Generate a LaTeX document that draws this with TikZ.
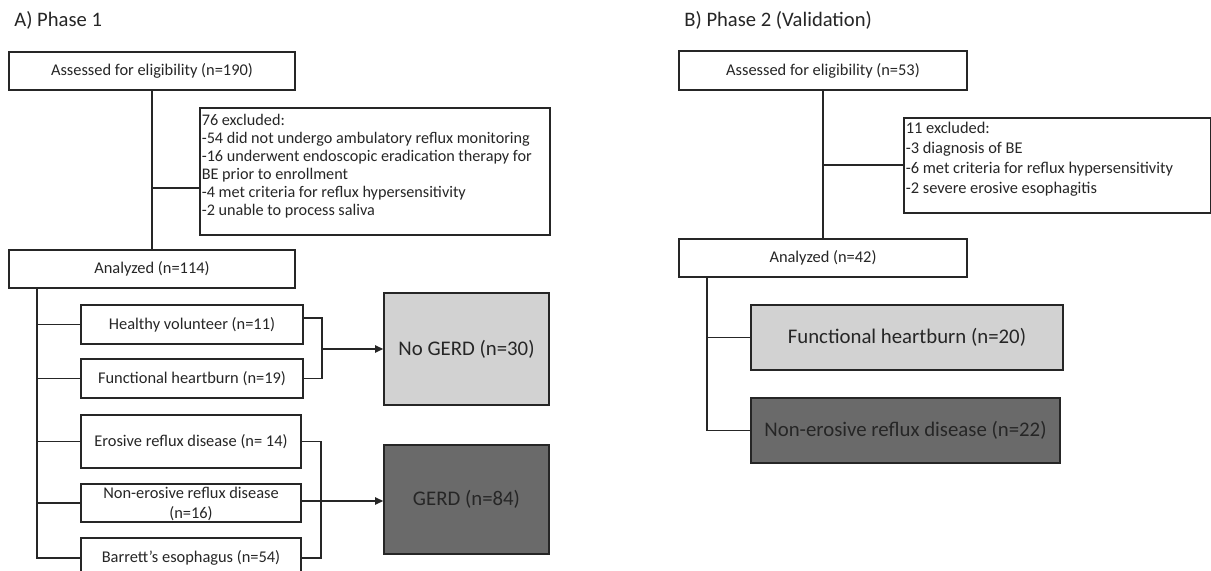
\documentclass[tikz,border=0pt]{standalone}
\usepackage{fontspec}
\setmainfont{Carlito}
\usetikzlibrary{arrows.meta}

\definecolor{linec}{HTML}{262626}
\definecolor{lightfill}{HTML}{D2D2D2}
\definecolor{darkfill}{HTML}{6A6A6A}

\tikzset{
	box/.style={draw=linec, line width=0.8pt, fill=white, inner sep=1pt, align=center,
		text=linec, font=\fontsize{8.2}{10}\selectfont},
	bigbox/.style={box, font=\fontsize{10.4}{12}\selectfont},
	exclbox/.style={box, anchor=north west, align=left, inner sep=1pt},
	conn/.style={draw=linec, line width=0.8pt},
	arr/.style={-{Triangle[length=4pt,width=3.6pt]}},
	title/.style={anchor=west, inner sep=0pt, text=linec, font=\fontsize{10.3}{12}\selectfont}
}

\begin{document}
\begin{tikzpicture}[x=0.5pt,y=-0.5pt]
	\clip (0,0) rectangle (1211,571);
	\fill[white] (0,0) rectangle (1211,571);

	% A) Phase 1
	\node[title] (titA) at (14,20) {A) Phase 1};
	\node[box, minimum width=143pt, minimum height=19pt] (assA) at (152,71) {Assessed for eligibility (n=190)};
	\node[exclbox] (exA) at (199,107) {\begin{minipage}[t][61.5pt][t]{173pt}%
		\fontsize{8.1}{9}\selectfont\lineskiplimit=-4pt\vspace*{2pt}%
		76 excluded:\\
		-54 did not undergo ambulatory reflux monitoring\\
		-16 underwent endoscopic eradication therapy for\\
		BE prior to enrollment\\
		-4 met criteria for reflux hypersensitivity\\
		-2 unable to process saliva\end{minipage}};
	\node[box, minimum width=143pt, minimum height=19pt] (anA) at (152,269) {Analyzed (n=114)};

	\node[box, minimum width=111pt, minimum height=19.5pt] (hv) at (192,324.5) {Healthy volunteer (n=11)};
	\node[box, minimum width=111pt, minimum height=19.5pt] (fh) at (192,378.5) {Functional heartburn (n=19)};
	\node[box, minimum width=110pt, minimum height=26.5pt] (erd) at (191,441.5) {Erosive reflux disease (n= 14)};
	\node[box, minimum width=110pt, minimum height=19pt, inner sep=0pt, text height=17.2pt, text depth=1.8pt] (nerd) at (191,503) {Non-erosive reflux disease\\(n=16)};
	\node[box, minimum width=110pt, minimum height=20pt] (be) at (191,558) {Barrett’s esophagus (n=54)};

	\node[bigbox, fill=lightfill, minimum width=82.5pt, minimum height=56pt] (noG) at (466.5,349) {No GERD (n=30)};
	\node[bigbox, fill=darkfill, minimum width=82.5pt, minimum height=54.5pt] (gerd) at (466.5,499.5) {GERD (n=84)};

	\draw[conn] (assA) -- (anA);
	\coordinate (bA) at (153,188);
	\draw[conn] (bA) -- (bA -| exA.west);

	\coordinate (tkA) at ([xshift=14.5pt]anA.south west);
	\foreach \n in {hv,fh,erd,nerd,be}
		\draw[conn] (tkA) |- (\n.west);

	\coordinate (kA) at (322,349);
	\draw[conn] ([yshift=3.25pt]hv.east) -| (kA) |- (fh.east);
	\draw[conn, arr] (kA) -- (noG);

	\coordinate (kB) at (321,501);
	\draw[conn] (erd.east) -| (kB) |- (be.east);
	\draw[conn, arr] (nerd.east |- kB) -- (kB -| gerd.west);

	% B) Phase 2 (Validation)
	\node[title] (titB) at (684,20) {B) Phase 2 (Validation)};
	\node[box, minimum width=144pt, minimum height=19.5pt] (assB) at (823,70.5) {Assessed for eligibility (n=53)};
	\node[exclbox] (exB) at (903,117) {\begin{minipage}[t][45.5pt][t]{151.5pt}%
		\fontsize{8.2}{10}\selectfont\vspace*{1pt}%
		11 excluded:\\
		-3 diagnosis of BE\\
		-6 met criteria for reflux hypersensitivity\\
		-2 severe erosive esophagitis\end{minipage}};
	\node[box, minimum width=144pt, minimum height=19pt] (anB) at (823,258) {Analyzed (n=42)};

	\node[bigbox, fill=lightfill, minimum width=156pt, minimum height=32.5pt] (fhB) at (907,337.5) {Functional heartburn (n=20)};
	\node[bigbox, fill=darkfill, minimum width=154.5pt, minimum height=32.5pt] (nerdB) at (905.5,430.5) {Non-erosive reflux disease (n=22)};

	\draw[conn] (assB) -- (anB);
	\draw[conn] (assB.south |- exB.west) -- (exB.west);

	\coordinate (tkB) at ([xshift=14.5pt]anB.south west);
	\foreach \n in {fhB,nerdB}
		\draw[conn] (tkB) |- (\n.west);
\end{tikzpicture}
\end{document}
